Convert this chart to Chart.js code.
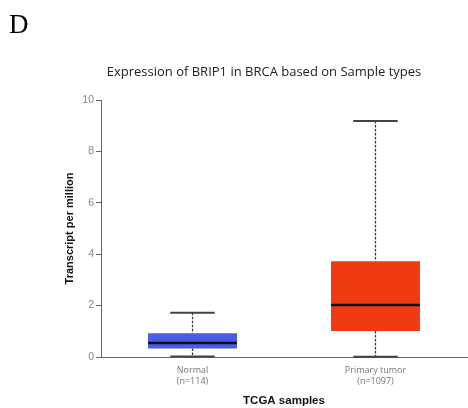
<!DOCTYPE html>
<html lang="en">
<head>
  <meta charset="UTF-8" />
  <title>Expression of BRIP1 in BRCA</title>
  <style>
    html, body { margin: 0; padding: 0; background: white; }
    #wrap { width: 468px; height: 408px; position: relative; }
  </style>
</head>
<body>
  <div id="wrap"><canvas id="boxChart"></canvas></div>

  <script src="https://cdn.jsdelivr.net/npm/chart.js"></script>
  <script>
    // sample groups and their box-plot statistics (TPM)
    const categories = [['Normal', '(n=114)'], ['Primary tumor', '(n=1097)']];
    const whiskerLow = [0.02, 0.01];
    const q1 = [0.33, 1.01];
    const median = [0.54, 2.02];
    const q3 = [0.92, 3.73];
    const whiskerHigh = [1.72, 9.18];
    const boxColors = ['#4a5ce6', '#f03a12'];
    const yTicks = [0, 2, 4, 6, 8, 10];

    // whiskers, caps and median drawn on top of the floating bars
    const boxPlotExtras = {
      id: 'boxPlotExtras',
      afterDatasetsDraw(chart) {
        const ctx = chart.ctx;
        const y = chart.scales.y;
        const bars = chart.getDatasetMeta(0).data;
        ctx.save();
        bars.forEach((bar, i) => {
          const x = bar.x;
          const half = bar.width / 2;
          const capHalf = bar.width * 0.25;
          const yHi = y.getPixelForValue(whiskerHigh[i]);
          const yLo = y.getPixelForValue(whiskerLow[i]);
          const yQ1 = y.getPixelForValue(q1[i]);
          const yQ3 = y.getPixelForValue(q3[i]);
          const yMed = y.getPixelForValue(median[i]);

          ctx.strokeStyle = '#333';
          ctx.lineWidth = 1.2;
          ctx.setLineDash([2.5, 1.5]);
          ctx.beginPath();
          ctx.moveTo(x, yHi); ctx.lineTo(x, yQ3);
          ctx.moveTo(x, yQ1); ctx.lineTo(x, yLo);
          ctx.stroke();

          ctx.setLineDash([]);
          ctx.lineWidth = 2;
          ctx.strokeStyle = '#444';
          ctx.beginPath();
          ctx.moveTo(x - capHalf, yHi); ctx.lineTo(x + capHalf, yHi);
          ctx.moveTo(x - capHalf, yLo); ctx.lineTo(x + capHalf, yLo);
          ctx.stroke();

          ctx.lineWidth = 2.5;
          ctx.strokeStyle = '#111';
          ctx.beginPath();
          ctx.moveTo(x - half, yMed); ctx.lineTo(x + half, yMed);
          ctx.stroke();
        });
        ctx.restore();
      },
      afterDraw(chart) {
        const ctx = chart.ctx;
        ctx.save();
        ctx.fillStyle = '#000';
        ctx.textBaseline = 'alphabetic';
        ctx.textAlign = 'left';
        ctx.font = '27px "Liberation Serif", serif';
        ctx.fillText('D', 9, 33);
        ctx.fillStyle = '#222';
        ctx.textAlign = 'center';
        ctx.font = '13px "Open Sans", sans-serif';
        ctx.fillText('Expression of BRIP1 in BRCA based on Sample types', 264, 76);
        ctx.restore();
      }
    };

    new Chart(document.getElementById('boxChart'), {
      type: 'bar',
      data: {
        labels: categories,
        datasets: [{
          data: q1.map((v, i) => [v, q3[i]]),
          backgroundColor: boxColors,
          borderWidth: 0,
          categoryPercentage: 1,
          barPercentage: 0.486
        }]
      },
      options: {
        responsive: true,
        maintainAspectRatio: false,
        animation: false,
        layout: { padding: { top: 100, right: 1, left: 63, bottom: 0 } },
        plugins: {
          legend: { display: false },
          tooltip: { enabled: false }
        },
        scales: {
          x: {
            grid: { display: false, drawTicks: false },
            border: { color: '#666', width: 1 },
            ticks: {
              color: '#777',
              padding: 8,
              font: { family: 'Open Sans', size: 9 }
            },
            title: {
              display: true,
              text: 'TCGA samples',
              color: '#111',
              padding: { top: 5, bottom: 0 },
              font: { family: 'Liberation Sans', size: 11.5, weight: 'bold' }
            },
            afterFit(scale) { scale.height = 51; }
          },
          y: {
            min: 0,
            max: 10,
            afterBuildTicks(scale) { scale.ticks = yTicks.map(v => ({ value: v })); },
            grid: { drawOnChartArea: false, tickLength: 5, color: '#666' },
            border: { color: '#666', width: 1 },
            ticks: {
              color: '#888',
              padding: 2,
              font: { family: 'Liberation Sans', size: 10.5 }
            },
            title: {
              display: true,
              text: 'Transcript per million',
              color: '#111',
              padding: { top: 0, bottom: 0 },
              font: { family: 'Liberation Sans', size: 11, weight: 'bold' }
            },
            afterFit(scale) { scale.width = 38; }
          }
        }
      },
      plugins: [boxPlotExtras]
    });
  </script>
</body>
</html>
